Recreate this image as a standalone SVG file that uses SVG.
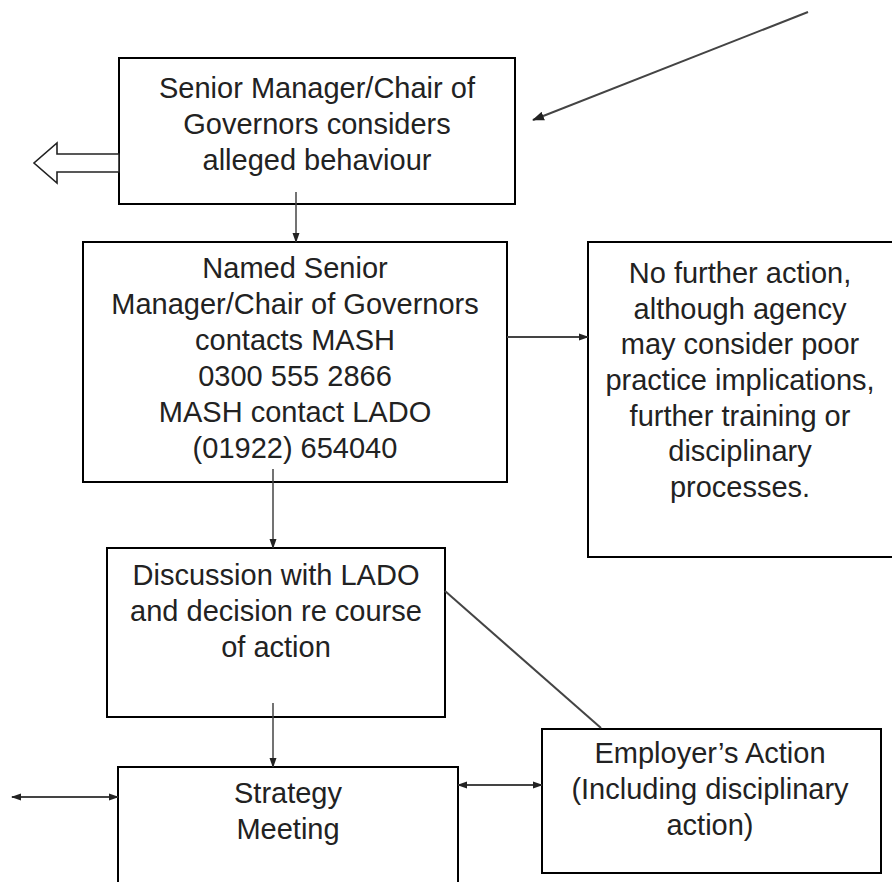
<svg xmlns="http://www.w3.org/2000/svg" width="892" height="882" viewBox="0 0 892 882">
<style>
.box{fill:#fff;stroke:#000;stroke-width:2}
.t{font-family:"Liberation Sans",Arial,sans-serif;font-size:29px;fill:#222;text-anchor:middle}
.c{fill:none;stroke:#444;stroke-width:2}
.ct{fill:none;stroke:#444;stroke-width:1.5}
</style>
<defs>
<marker id="ah" markerUnits="userSpaceOnUse" markerWidth="10" markerHeight="8" refX="9" refY="4" orient="auto-start-reverse">
<path d="M0,0.5 L10,4 L0,7.5 z" fill="#222"/>
</marker>
<marker id="ahbig" markerUnits="userSpaceOnUse" markerWidth="12" markerHeight="10" refX="11" refY="5" orient="auto">
<path d="M0,0.5 L12,5 L0,9.5 z" fill="#222"/>
</marker>
</defs>
<rect width="892" height="882" fill="#fff"/>

<g id="node-senior-manager">
<rect class="box" x="119" y="58" width="396" height="146"/>
<text class="t" x="317" y="98">Senior Manager/Chair of</text>
<text class="t" x="317" y="134">Governors considers</text>
<text class="t" x="317" y="170">alleged behaviour</text>
</g>

<g id="node-named-senior">
<rect class="box" x="83" y="242" width="424" height="240"/>
<text class="t" x="295" y="278">Named Senior</text>
<text class="t" x="295" y="314">Manager/Chair of Governors</text>
<text class="t" x="295" y="350">contacts MASH</text>
<text class="t" x="295" y="386">0300 555 2866</text>
<text class="t" x="295" y="422">MASH contact LADO</text>
<text class="t" x="295" y="458">(01922) 654040</text>
</g>

<g id="node-no-further-action">
<rect class="box" x="588" y="242" width="310" height="315"/>
<text class="t" x="740" y="283">No further action,</text>
<text class="t" x="740" y="319">although agency</text>
<text class="t" x="740" y="354">may consider poor</text>
<text class="t" x="740" y="390">practice implications,</text>
<text class="t" x="740" y="426">further training or</text>
<text class="t" x="740" y="461">disciplinary</text>
<text class="t" x="740" y="497">processes.</text>
</g>

<g id="node-discussion">
<rect class="box" x="107" y="548" width="338" height="169"/>
<text class="t" x="276" y="585">Discussion with LADO</text>
<text class="t" x="276" y="621">and decision re course</text>
<text class="t" x="276" y="657">of action</text>
</g>

<g id="node-strategy">
<rect class="box" x="118" y="767" width="340" height="130"/>
<text class="t" x="288" y="803">Strategy</text>
<text class="t" x="288" y="839">Meeting</text>
</g>

<g id="node-employer">
<rect class="box" x="542" y="729" width="339" height="144"/>
<text class="t" x="710" y="763">Employer’s Action</text>
<text class="t" x="710" y="799">(Including disciplinary</text>
<text class="t" x="710" y="835">action)</text>
</g>

<g id="connectors">
<line class="c" x1="808" y1="12" x2="533" y2="120" marker-end="url(#ahbig)"/>
<polygon points="119,154 57,154 57,143 34,163 57,183 57,172 119,172" fill="#fff" stroke="#222" stroke-width="1.6" stroke-linejoin="miter"/>
<line class="ct" x1="296" y1="192" x2="296" y2="242" marker-end="url(#ah)"/>
<line class="c" x1="507" y1="337" x2="588" y2="337" stroke-width="2.5" marker-end="url(#ah)"/>
<line class="ct" x1="273" y1="469" x2="273" y2="548" marker-end="url(#ah)"/>
<line class="ct" x1="273" y1="703" x2="273" y2="767" marker-end="url(#ah)"/>
<line class="c" x1="445" y1="591" x2="601" y2="728"/>
<line class="c" x1="12" y1="797" x2="118" y2="797" stroke-width="2.5" marker-start="url(#ah)" marker-end="url(#ah)"/>
<line class="c" x1="458" y1="785" x2="542" y2="785" stroke-width="2.5" marker-start="url(#ah)" marker-end="url(#ah)"/>
</g>
</svg>
